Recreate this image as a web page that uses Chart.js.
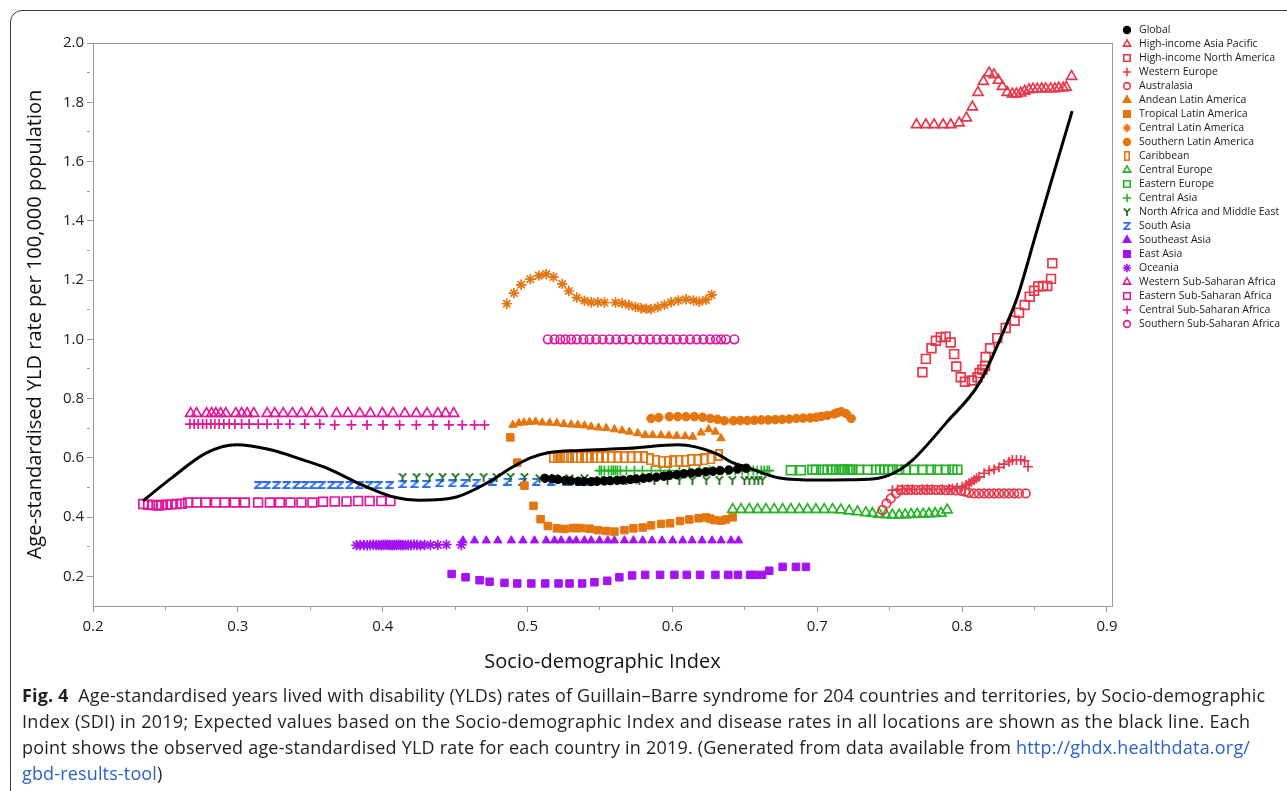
<!DOCTYPE html>
<html>
<head>
<meta charset="utf-8">
<title>Guillain–Barre syndrome YLD rates by SDI, 2019</title>
<script src="https://cdn.jsdelivr.net/npm/chart.js@4.4.1/dist/chart.umd.min.js"></script>
<style>
  html, body { margin: 0; padding: 0; background: #fff; width: 1287px; height: 791px; overflow: hidden; }
  #frame { position: absolute; left: 10px; top: 10px; width: 1700px; height: 1100px;
           border: 1.4px solid #3a3a3a; border-radius: 12px; }
  #wrap { position: absolute; left: 0; top: 0; width: 1287px; height: 690px; }
  #caption { position: absolute; left: 22px; top: 682px; font-family: "Open Sans", "Noto Sans", sans-serif;
             font-size: 18px; line-height: 26px; color: #231f20; }
  #caption .line { display: block; white-space: nowrap; }
  #caption .line span.w { display: inline-block; white-space: nowrap; }
  #caption b { font-weight: 700; }
  #caption .lnk { color: #2b62c8; }
</style>
</head>
<body>
<div id="frame"></div>
<div id="wrap"><canvas id="c" width="1287" height="690"></canvas></div>
<div id="caption">
  <span class="line"><span class="w"><b>Fig. 4</b>&nbsp; Age-standardised years lived with disability (YLDs) rates of Guillain–Barre syndrome for 204 countries and territories, by Socio-demographic</span></span>
  <span class="line"><span class="w">Index (SDI) in 2019; Expected values based on the Socio-demographic Index and disease rates in all locations are shown as the black line. Each</span></span>
  <span class="line"><span class="w">point shows the observed age-standardised YLD rate for each country in 2019. (Generated from data available from <span class="lnk">http://ghdx.healthdata.org/</span></span></span>
  <span class="line"><span class="w"><span class="lnk">gbd-results-tool</span>)</span></span>
</div>
<script>
// ---- Axis ticks ----
const xMajorTicks = [0.2, 0.3, 0.4, 0.5, 0.6, 0.7, 0.8, 0.9];
const xMajorLabels = ['0.2', '0.3', '0.4', '0.5', '0.6', '0.7', '0.8', '0.9'];
const xMinorTicks = [0.25, 0.35, 0.45, 0.55, 0.65, 0.75, 0.85];
const yMajorTicks = [0.2, 0.4, 0.6, 0.8, 1.0, 1.2, 1.4, 1.6, 1.8, 2.0];
const yMajorLabels = ['0.2', '0.4', '0.6', '0.8', '1.0', '1.2', '1.4', '1.6', '1.8', '2.0'];
const yMinorTicks = [0.3, 0.5, 0.7, 0.9, 1.1, 1.3, 1.5, 1.7, 1.9];

// ---- Expected values (black line) ----
const expectedSdi = [0.2345, 0.255, 0.278, 0.299, 0.322, 0.345, 0.363, 0.386, 0.409, 0.425, 0.451, 0.472, 0.490, 0.502, 0.515, 0.536, 0.570, 0.604, 0.630, 0.641, 0.651, 0.674, 0.701, 0.722, 0.743, 0.757, 0.766, 0.789, 0.812, 0.830, 0.838, 0.851, 0.862, 0.876];
const expectedRate = [0.455, 0.535, 0.616, 0.644, 0.628, 0.593, 0.562, 0.508, 0.466, 0.457, 0.468, 0.515, 0.570, 0.600, 0.618, 0.625, 0.632, 0.644, 0.615, 0.585, 0.569, 0.532, 0.525, 0.526, 0.532, 0.560, 0.593, 0.718, 0.853, 1.043, 1.140, 1.356, 1.540, 1.770];

// ---- Observed values, 1990–2019, per region ----
const globalSdi = [0.512, 0.517, 0.521, 0.526, 0.530, 0.535, 0.539, 0.544, 0.548, 0.553, 0.557, 0.562, 0.566, 0.571, 0.575, 0.580, 0.584, 0.589, 0.594, 0.598, 0.603, 0.608, 0.613, 0.618, 0.623, 0.628, 0.633, 0.639, 0.645, 0.651];
const globalRate = [0.531, 0.529, 0.527, 0.524, 0.522, 0.521, 0.520, 0.520, 0.521, 0.522, 0.523, 0.524, 0.525, 0.527, 0.529, 0.531, 0.533, 0.535, 0.538, 0.541, 0.543, 0.546, 0.549, 0.551, 0.553, 0.555, 0.557, 0.559, 0.562, 0.565];

const hiAsiaPacificSdi = [0.7685, 0.775, 0.7807, 0.7869, 0.7922, 0.798, 0.803, 0.8071, 0.811, 0.8147, 0.8186, 0.822, 0.825, 0.8278, 0.8312, 0.8347, 0.8375, 0.8405, 0.8432, 0.8462, 0.849, 0.8519, 0.855, 0.8577, 0.8612, 0.8641, 0.8667, 0.8698, 0.8719, 0.8756];
const hiAsiaPacificRate = [1.724, 1.724, 1.724, 1.724, 1.724, 1.730, 1.747, 1.784, 1.833, 1.870, 1.899, 1.893, 1.874, 1.853, 1.833, 1.828, 1.828, 1.831, 1.837, 1.842, 1.845, 1.845, 1.846, 1.846, 1.846, 1.846, 1.848, 1.848, 1.851, 1.887];

const hiNorthAmericaSdi = [0.7726, 0.775, 0.7789, 0.7819, 0.7853, 0.7887, 0.7922, 0.7945, 0.796, 0.7991, 0.802, 0.8067, 0.8106, 0.8122, 0.8140, 0.8159, 0.8163, 0.8193, 0.8243, 0.8301, 0.8363, 0.8393, 0.8432, 0.8467, 0.8497, 0.8526, 0.8559, 0.8588, 0.8614, 0.8623];
const hiNorthAmericaRate = [0.889, 0.934, 0.970, 0.995, 1.007, 1.009, 0.989, 0.950, 0.908, 0.872, 0.857, 0.861, 0.872, 0.886, 0.897, 0.910, 0.940, 0.970, 1.004, 1.038, 1.063, 1.090, 1.116, 1.144, 1.164, 1.178, 1.180, 1.180, 1.204, 1.257];

const westernEuropeSdi = [0.7519, 0.7555, 0.7588, 0.7624, 0.7657, 0.7726, 0.7760, 0.7795, 0.7864, 0.791, 0.7933, 0.7966, 0.8002, 0.8028, 0.8048, 0.8065, 0.8083, 0.81, 0.8117, 0.8152, 0.8186, 0.8221, 0.8255, 0.829, 0.8324, 0.8347, 0.8375, 0.8405, 0.8432, 0.8455];
const westernEuropeRate = [0.491, 0.493, 0.494, 0.494, 0.494, 0.494, 0.494, 0.494, 0.494, 0.495, 0.496, 0.498, 0.503, 0.508, 0.514, 0.519, 0.525, 0.531, 0.536, 0.548, 0.557, 0.561, 0.568, 0.579, 0.587, 0.593, 0.593, 0.593, 0.590, 0.570];

const australasiaSdi = [0.745, 0.7478, 0.7508, 0.7543, 0.7577, 0.7612, 0.7646, 0.7681, 0.7715, 0.775, 0.7784, 0.7819, 0.7853, 0.7888, 0.7922, 0.7957, 0.7991, 0.8021, 0.8048, 0.8083, 0.8117, 0.8152, 0.8186, 0.8221, 0.8255, 0.829, 0.8324, 0.8359, 0.8393, 0.8439];
const australasiaRate = [0.424, 0.446, 0.463, 0.480, 0.491, 0.492, 0.492, 0.492, 0.492, 0.492, 0.492, 0.492, 0.492, 0.491, 0.491, 0.490, 0.489, 0.486, 0.482, 0.480, 0.480, 0.480, 0.480, 0.480, 0.480, 0.480, 0.480, 0.480, 0.480, 0.480];

const andeanLaSdi = [0.4899, 0.494, 0.4975, 0.5014, 0.5055, 0.5101, 0.5152, 0.5202, 0.525, 0.5301, 0.5347, 0.5393, 0.5439, 0.549, 0.5543, 0.56, 0.5653, 0.5703, 0.5761, 0.5812, 0.5864, 0.5922, 0.5975, 0.603, 0.6088, 0.614, 0.6198, 0.625, 0.6297, 0.6336];
const andeanLaRate = [0.711, 0.717, 0.719, 0.721, 0.722, 0.719, 0.718, 0.717, 0.714, 0.712, 0.711, 0.709, 0.705, 0.702, 0.700, 0.696, 0.692, 0.688, 0.683, 0.677, 0.677, 0.676, 0.675, 0.674, 0.673, 0.671, 0.685, 0.696, 0.688, 0.666];

const tropicalLaSdi = [0.4881, 0.4929, 0.4979, 0.5041, 0.509, 0.514, 0.5202, 0.5255, 0.5312, 0.5341, 0.537, 0.5428, 0.5485, 0.5543, 0.56, 0.5669, 0.5731, 0.5795, 0.5853, 0.5922, 0.5984, 0.6053, 0.6117, 0.6181, 0.6232, 0.6262, 0.629, 0.6336, 0.637, 0.6416];
const tropicalLaRate = [0.669, 0.584, 0.506, 0.438, 0.393, 0.370, 0.362, 0.360, 0.363, 0.363, 0.363, 0.361, 0.356, 0.353, 0.351, 0.356, 0.362, 0.365, 0.372, 0.377, 0.379, 0.387, 0.392, 0.396, 0.399, 0.395, 0.390, 0.388, 0.392, 0.399];

const centralLaSdi = [0.4857, 0.4906, 0.4956, 0.5019, 0.5078, 0.5129, 0.5179, 0.5239, 0.5285, 0.534, 0.5393, 0.5439, 0.5485, 0.5531, 0.5607, 0.5653, 0.5699, 0.5745, 0.5784, 0.5819, 0.5853, 0.5899, 0.5945, 0.5991, 0.6041, 0.6094, 0.6145, 0.6186, 0.6232, 0.6271];
const centralLaRate = [1.120, 1.156, 1.184, 1.203, 1.215, 1.220, 1.210, 1.187, 1.163, 1.141, 1.130, 1.125, 1.125, 1.124, 1.124, 1.122, 1.116, 1.110, 1.105, 1.103, 1.102, 1.108, 1.116, 1.125, 1.131, 1.135, 1.131, 1.127, 1.133, 1.150];

const southernLaSdi = [0.5853, 0.5906, 0.5979, 0.6037, 0.6094, 0.6152, 0.6209, 0.6262, 0.6312, 0.6359, 0.6421, 0.6469, 0.6517, 0.6566, 0.6614, 0.6662, 0.671, 0.6759, 0.6807, 0.6855, 0.6903, 0.6952, 0.6993, 0.7028, 0.7069, 0.7117, 0.7138, 0.7166, 0.72, 0.7234];
const southernLaRate = [0.733, 0.736, 0.739, 0.739, 0.739, 0.739, 0.737, 0.733, 0.730, 0.725, 0.725, 0.726, 0.726, 0.727, 0.728, 0.728, 0.729, 0.730, 0.731, 0.733, 0.734, 0.735, 0.737, 0.740, 0.743, 0.748, 0.752, 0.756, 0.749, 0.733];

const caribbeanSdi = [0.5175, 0.5202, 0.5232, 0.526, 0.529, 0.5324, 0.5359, 0.5393, 0.5428, 0.5462, 0.5497, 0.5538, 0.5577, 0.5623, 0.5669, 0.5715, 0.5761, 0.5807, 0.5846, 0.5888, 0.5929, 0.5968, 0.6007, 0.6048, 0.609, 0.6129, 0.6175, 0.6221, 0.6267, 0.6319];
const caribbeanRate = [0.602, 0.602, 0.602, 0.602, 0.602, 0.602, 0.602, 0.602, 0.602, 0.602, 0.602, 0.602, 0.602, 0.602, 0.602, 0.602, 0.602, 0.602, 0.595, 0.590, 0.587, 0.587, 0.588, 0.590, 0.590, 0.593, 0.593, 0.595, 0.598, 0.610];

const centralEuropeSdi = [0.6416, 0.6474, 0.6531, 0.6588, 0.6646, 0.6703, 0.6761, 0.6818, 0.6876, 0.6933, 0.6991, 0.7048, 0.7106, 0.7163, 0.7221, 0.7278, 0.7336, 0.7381, 0.7428, 0.7474, 0.7519, 0.7566, 0.7607, 0.7648, 0.769, 0.7731, 0.7772, 0.7814, 0.7855, 0.7897];
const centralEuropeRate = [0.426, 0.426, 0.426, 0.426, 0.426, 0.426, 0.426, 0.426, 0.426, 0.426, 0.426, 0.426, 0.426, 0.424, 0.421, 0.418, 0.415, 0.412, 0.410, 0.408, 0.407, 0.407, 0.408, 0.409, 0.410, 0.410, 0.411, 0.412, 0.413, 0.424];

const easternEuropeSdi = [0.6818, 0.6887, 0.6966, 0.6991, 0.7037, 0.7071, 0.7106, 0.7129, 0.7152, 0.7175, 0.719, 0.7209, 0.7224, 0.7243, 0.729, 0.7347, 0.7405, 0.7434, 0.7462, 0.749, 0.7519, 0.7566, 0.7612, 0.7669, 0.7726, 0.7784, 0.783, 0.7887, 0.7933, 0.7968];
const easternEuropeRate = [0.558, 0.558, 0.560, 0.560, 0.560, 0.560, 0.560, 0.560, 0.560, 0.560, 0.560, 0.560, 0.560, 0.560, 0.560, 0.560, 0.560, 0.560, 0.560, 0.560, 0.560, 0.560, 0.560, 0.560, 0.560, 0.560, 0.560, 0.560, 0.560, 0.560];

const centralAsiaSdi = [0.5497, 0.5510, 0.5531, 0.5559, 0.5579, 0.5593, 0.5607, 0.5621, 0.5641, 0.5683, 0.5738, 0.5793, 0.5855, 0.5917, 0.5979, 0.6048, 0.6117, 0.6186, 0.6255, 0.6317, 0.6379, 0.6434, 0.6483, 0.6524, 0.6559, 0.6586, 0.6614, 0.6634, 0.6655, 0.6669];
const centralAsiaRate = [0.557, 0.557, 0.557, 0.557, 0.557, 0.557, 0.557, 0.557, 0.557, 0.557, 0.557, 0.557, 0.557, 0.557, 0.557, 0.557, 0.557, 0.557, 0.557, 0.557, 0.557, 0.557, 0.557, 0.557, 0.557, 0.557, 0.557, 0.557, 0.557, 0.557];

const naMeSdi = [0.4138, 0.4234, 0.4324, 0.4414, 0.4503, 0.46, 0.4697, 0.4786, 0.4883, 0.4979, 0.5083, 0.5186, 0.529, 0.5393, 0.5497, 0.5586, 0.5683, 0.5772, 0.5876, 0.5966, 0.6048, 0.6138, 0.6234, 0.6324, 0.6414, 0.6497, 0.6531, 0.6566, 0.6593, 0.6621];
const naMeRate = [0.535, 0.535, 0.535, 0.535, 0.535, 0.535, 0.535, 0.535, 0.535, 0.535, 0.530, 0.530, 0.530, 0.530, 0.525, 0.525, 0.525, 0.525, 0.525, 0.525, 0.525, 0.525, 0.525, 0.525, 0.525, 0.525, 0.525, 0.525, 0.525, 0.525];

const southAsiaSdi = [0.314, 0.3198, 0.3267, 0.3336, 0.3405, 0.3462, 0.3519, 0.3577, 0.3646, 0.3703, 0.3772, 0.3841, 0.3906, 0.3968, 0.4048, 0.414, 0.4221, 0.4301, 0.4393, 0.4481, 0.4566, 0.4646, 0.4761, 0.4864, 0.4968, 0.506, 0.5163, 0.5267, 0.5359, 0.5439];
const southAsiaRate = [0.508, 0.508, 0.508, 0.508, 0.508, 0.508, 0.508, 0.508, 0.508, 0.508, 0.508, 0.508, 0.508, 0.508, 0.508, 0.511, 0.511, 0.512, 0.514, 0.514, 0.515, 0.516, 0.519, 0.519, 0.519, 0.519, 0.519, 0.519, 0.519, 0.519];

const southeastAsiaSdi = [0.4554, 0.4634, 0.4715, 0.4795, 0.4888, 0.4968, 0.5048, 0.5129, 0.5186, 0.5232, 0.529, 0.5336, 0.5393, 0.5439, 0.5497, 0.5554, 0.56, 0.5669, 0.5731, 0.5795, 0.586, 0.5929, 0.6002, 0.6071, 0.6136, 0.6205, 0.6274, 0.6336, 0.6405, 0.6457];
const southeastAsiaRate = [0.321, 0.321, 0.321, 0.321, 0.321, 0.321, 0.321, 0.321, 0.321, 0.321, 0.321, 0.321, 0.321, 0.321, 0.321, 0.321, 0.321, 0.321, 0.321, 0.321, 0.321, 0.321, 0.321, 0.321, 0.321, 0.321, 0.321, 0.321, 0.321, 0.321];

const eastAsiaSdi = [0.4476, 0.4572, 0.4669, 0.4738, 0.4841, 0.4929, 0.5026, 0.5122, 0.5214, 0.529, 0.5377, 0.5462, 0.555, 0.5634, 0.5722, 0.5812, 0.5915, 0.6014, 0.6099, 0.6191, 0.6297, 0.6386, 0.6453, 0.6536, 0.6566, 0.6619, 0.6669, 0.6761, 0.6853, 0.6922];
const eastAsiaRate = [0.208, 0.197, 0.187, 0.182, 0.178, 0.176, 0.176, 0.176, 0.176, 0.176, 0.176, 0.180, 0.185, 0.197, 0.203, 0.205, 0.205, 0.205, 0.205, 0.205, 0.205, 0.205, 0.205, 0.205, 0.205, 0.205, 0.219, 0.232, 0.232, 0.232];

const oceaniaSdi = [0.3818, 0.3845, 0.3870, 0.3893, 0.3915, 0.3935, 0.3955, 0.3972, 0.3990, 0.4005, 0.4020, 0.4035, 0.4050, 0.4065, 0.4080, 0.4095, 0.4110, 0.4125, 0.4140, 0.4158, 0.4176, 0.4195, 0.4215, 0.4237, 0.4260, 0.4290, 0.4330, 0.4380, 0.4440, 0.4543];
const oceaniaRate = [0.305, 0.306, 0.306, 0.305, 0.306, 0.307, 0.306, 0.306, 0.305, 0.306, 0.307, 0.306, 0.306, 0.305, 0.306, 0.306, 0.307, 0.306, 0.305, 0.306, 0.306, 0.306, 0.307, 0.306, 0.305, 0.306, 0.306, 0.306, 0.307, 0.306];

const westernSsaSdi = [0.2674, 0.2715, 0.2784, 0.2819, 0.2848, 0.2881, 0.2917, 0.2986, 0.3026, 0.3064, 0.311, 0.3202, 0.3255, 0.3313, 0.3377, 0.3439, 0.3508, 0.3584, 0.3681, 0.3761, 0.3841, 0.3915, 0.3998, 0.4071, 0.4152, 0.4232, 0.4306, 0.4381, 0.4434, 0.449];
const westernSsaRate = [0.750, 0.750, 0.750, 0.750, 0.750, 0.750, 0.750, 0.750, 0.750, 0.750, 0.750, 0.750, 0.750, 0.750, 0.750, 0.750, 0.750, 0.750, 0.750, 0.750, 0.750, 0.750, 0.750, 0.750, 0.750, 0.750, 0.750, 0.750, 0.750, 0.750];

const easternSsaSdi = [0.2347, 0.2381, 0.2412, 0.2439, 0.2455, 0.2474, 0.2508, 0.2543, 0.2577, 0.2612, 0.2657, 0.2715, 0.2779, 0.2848, 0.291, 0.2979, 0.3048, 0.314, 0.3221, 0.329, 0.3363, 0.3439, 0.3515, 0.3588, 0.3669, 0.375, 0.383, 0.391, 0.3991, 0.4053];
const easternSsaRate = [0.444, 0.442, 0.441, 0.440, 0.440, 0.441, 0.442, 0.443, 0.444, 0.445, 0.449, 0.449, 0.449, 0.449, 0.449, 0.449, 0.449, 0.449, 0.449, 0.449, 0.449, 0.449, 0.449, 0.452, 0.453, 0.453, 0.454, 0.454, 0.454, 0.454];

const centralSsaSdi = [0.2669, 0.2699, 0.2726, 0.2757, 0.2784, 0.2814, 0.2841, 0.2871, 0.2903, 0.294, 0.2979, 0.3026, 0.3078, 0.3141, 0.3202, 0.3278, 0.3359, 0.3462, 0.3566, 0.3669, 0.3784, 0.3892, 0.4002, 0.4117, 0.4232, 0.4347, 0.4457, 0.4549, 0.4634, 0.4703];
const centralSsaRate = [0.714, 0.714, 0.714, 0.714, 0.714, 0.714, 0.714, 0.714, 0.714, 0.714, 0.714, 0.714, 0.714, 0.714, 0.714, 0.714, 0.714, 0.714, 0.714, 0.711, 0.711, 0.711, 0.711, 0.711, 0.711, 0.711, 0.711, 0.711, 0.711, 0.711];

const southernSsaSdi = [0.514, 0.5186, 0.5226, 0.5262, 0.5301, 0.534, 0.5386, 0.5428, 0.5474, 0.5519, 0.5566, 0.5612, 0.5657, 0.5703, 0.5754, 0.58, 0.5846, 0.5892, 0.5938, 0.5984, 0.603, 0.6076, 0.6122, 0.6168, 0.6214, 0.626, 0.6301, 0.6336, 0.637, 0.6428];
const southernSsaRate = [1.000, 1.000, 1.000, 1.000, 1.000, 1.000, 1.000, 1.000, 1.000, 1.000, 1.000, 1.000, 1.000, 1.000, 1.000, 1.000, 1.000, 1.000, 1.000, 1.000, 1.000, 1.000, 1.000, 1.000, 1.000, 1.000, 1.000, 1.000, 1.000, 1.000];

// ---- Palette ----
const RED = '#e6384a';
const ORANGE = '#e4750f';
const GREEN = '#27b327';
const DARK_GREEN = '#156a15';
const BLUE = '#2c6cf0';
const PURPLE = '#a413f4';
const MAGENTA = '#e0169c';
const FONT = '"Open Sans", "Noto Sans", sans-serif';

// ---- Custom glyph markers (Z, Y, tall box) ----
function glyph(w, h, paint) {
  const c = document.createElement('canvas');
  c.width = w; c.height = h;
  const g = c.getContext('2d');
  paint(g, w, h);
  return c;
}
function zGlyph(w, h, lw) {
  return glyph(w, h, (g) => {
    g.strokeStyle = BLUE; g.lineWidth = lw; g.lineJoin = 'miter'; g.lineCap = 'butt';
    g.beginPath();
    g.moveTo(0.5, lw / 2); g.lineTo(w - 1, lw / 2);
    g.lineTo(1, h - lw / 2); g.lineTo(w - 0.5, h - lw / 2);
    g.stroke();
  });
}
function yGlyph(w, h, lw) {
  return glyph(w, h, (g) => {
    g.strokeStyle = DARK_GREEN; g.lineWidth = lw; g.lineCap = 'butt';
    const cx = w / 2, cy = h * 0.48;
    g.beginPath();
    g.moveTo(0.8, 0.5); g.lineTo(cx, cy); g.lineTo(w - 0.8, 0.5);
    g.moveTo(cx, cy); g.lineTo(cx, h);
    g.stroke();
  });
}
function boxGlyph(w, h, lw) {
  return glyph(w, h, (g) => {
    g.strokeStyle = ORANGE; g.lineWidth = lw;
    g.strokeRect(lw / 2, lw / 2, w - lw, h - lw);
  });
}

// ---- Series styles (legend order) ----
const series = [
  { label: 'Global', sdi: globalSdi, rate: globalRate, style: 'circle', color: '#000', fill: true, r: 4.2 },
  { label: 'High-income Asia Pacific', sdi: hiAsiaPacificSdi, rate: hiAsiaPacificRate, style: 'triangle', color: RED, fill: false, r: 5.8 },
  { label: 'High-income North America', sdi: hiNorthAmericaSdi, rate: hiNorthAmericaRate, style: 'rect', color: RED, fill: false, r: 6.2 },
  { label: 'Western Europe', sdi: westernEuropeSdi, rate: westernEuropeRate, style: 'cross', color: RED, fill: false, r: 5 },
  { label: 'Australasia', sdi: australasiaSdi, rate: australasiaRate, style: 'circle', color: RED, fill: false, r: 4.3 },
  { label: 'Andean Latin America', sdi: andeanLaSdi, rate: andeanLaRate, style: 'triangle', color: ORANGE, fill: true, r: 4.8 },
  { label: 'Tropical Latin America', sdi: tropicalLaSdi, rate: tropicalLaRate, style: 'rect', color: ORANGE, fill: true, r: 5.3 },
  { label: 'Central Latin America', sdi: centralLaSdi, rate: centralLaRate, style: 'star', color: ORANGE, fill: false, r: 5.2 },
  { label: 'Southern Latin America', sdi: southernLaSdi, rate: southernLaRate, style: 'circle', color: ORANGE, fill: true, r: 4.3 },
  { label: 'Caribbean', sdi: caribbeanSdi, rate: caribbeanRate, style: boxGlyph(8, 12, 1.8), legendStyle: boxGlyph(6, 10, 1.6), color: ORANGE, fill: false, r: 5 },
  { label: 'Central Europe', sdi: centralEuropeSdi, rate: centralEuropeRate, style: 'triangle', color: GREEN, fill: false, r: 5.8 },
  { label: 'Eastern Europe', sdi: easternEuropeSdi, rate: easternEuropeRate, style: 'rect', color: GREEN, fill: false, r: 6.2 },
  { label: 'Central Asia', sdi: centralAsiaSdi, rate: centralAsiaRate, style: 'cross', color: GREEN, fill: false, r: 5 },
  { label: 'North Africa and Middle East', sdi: naMeSdi, rate: naMeRate, style: yGlyph(9, 9, 1.8), legendStyle: yGlyph(8, 8, 1.7), color: DARK_GREEN, fill: false, r: 5 },
  { label: 'South Asia', sdi: southAsiaSdi, rate: southAsiaRate, style: zGlyph(9, 8, 1.9), legendStyle: zGlyph(8, 8, 1.7), color: BLUE, fill: false, r: 5 },
  { label: 'Southeast Asia', sdi: southeastAsiaSdi, rate: southeastAsiaRate, style: 'triangle', color: PURPLE, fill: true, r: 4.8 },
  { label: 'East Asia', sdi: eastAsiaSdi, rate: eastAsiaRate, style: 'rect', color: PURPLE, fill: true, r: 5.3 },
  { label: 'Oceania', sdi: oceaniaSdi, rate: oceaniaRate, style: 'star', color: PURPLE, fill: false, r: 5.2 },
  { label: 'Western Sub-Saharan Africa', sdi: westernSsaSdi, rate: westernSsaRate, style: 'triangle', color: MAGENTA, fill: false, r: 5.8 },
  { label: 'Eastern Sub-Saharan Africa', sdi: easternSsaSdi, rate: easternSsaRate, style: 'rect', color: MAGENTA, fill: false, r: 6.2 },
  { label: 'Central Sub-Saharan Africa', sdi: centralSsaSdi, rate: centralSsaRate, style: 'cross', color: MAGENTA, fill: false, r: 5 },
  { label: 'Southern Sub-Saharan Africa', sdi: southernSsaSdi, rate: southernSsaRate, style: 'circle', color: MAGENTA, fill: false, r: 4.3 }
];

const toPoints = (xs, ys) => xs.map((x, i) => ({ x, y: ys[i] }));

const datasets = [
  {
    label: 'Expected',
    data: toPoints(expectedSdi, expectedRate),
    showLine: true,
    borderColor: '#000',
    borderWidth: 3,
    pointRadius: 0,
    cubicInterpolationMode: 'monotone',
    fill: false
  },
  ...series.map(s => ({
    label: s.label,
    data: toPoints(s.sdi, s.rate),
    showLine: false,
    pointStyle: s.style,
    pointRadius: s.r,
    pointHoverRadius: s.r,
    pointBorderWidth: s.fill ? 1 : 1.7,
    pointBorderColor: s.color,
    pointBackgroundColor: s.fill ? s.color : 'rgba(0,0,0,0)'
  }))
];

// Legend drawn at the right of the plot, one row per region
const sideLegend = {
  id: 'sideLegend',
  afterDraw(chart) {
    const ctx = chart.ctx;
    const x0 = 1127, tx = 1139, y0 = 30, step = 14;
    ctx.save();
    ctx.font = '10.5px ' + FONT;
    ctx.textBaseline = 'middle';
    ctx.textAlign = 'left';
    series.forEach((s, i) => {
      const y = y0 + i * step;
      ctx.fillStyle = s.fill ? s.color : 'rgba(0,0,0,0)';
      ctx.strokeStyle = s.color;
      ctx.lineWidth = 1.6;
      const style = s.legendStyle || s.style;
      Chart.helpers.drawPoint(ctx, {
        pointStyle: style,
        radius: s.style === 'rect' ? 4.6 : (s.style === 'circle' ? 3.4 : 4.2),
        borderWidth: s.fill ? 0.5 : 1.6,
        rotation: 0
      }, x0, y);
      ctx.fillStyle = '#1a1a1a';
      ctx.fillText(s.label, tx, y + 0.5);
    });
    ctx.restore();
  }
};

const tickLabel = (majors, labels) => (value) => {
  const i = majors.findIndex(m => Math.abs(m - value) < 1e-6);
  return i >= 0 ? labels[i] : '';
};
const isMinor = (minors) => (c) => (c.tick && minors.some(m => Math.abs(m - c.tick.value) < 1e-6)) ? [3, 40] : [];

new Chart(document.getElementById('c'), {
  type: 'scatter',
  data: { datasets },
  options: {
    responsive: false,
    animation: false,
    events: [],
    layout: { padding: { left: 0, top: 43, right: 175, bottom: 0 } },
    plugins: { legend: { display: false }, tooltip: { enabled: false } },
    scales: {
      x: {
        type: 'linear', position: 'bottom', min: 0.2, max: 0.9035,
        afterBuildTicks: (s) => { s.ticks = [...xMajorTicks, ...xMinorTicks].sort((a, b) => a - b).map(v => ({ value: v })); },
        afterFit: (s) => { s.height = 84; },
        ticks: { autoSkip: false, maxRotation: 0, padding: 6, color: '#1a1a1a', font: { family: FONT, size: 15 },
                 callback: tickLabel(xMajorTicks, xMajorLabels) },
        grid: { drawOnChartArea: false, drawTicks: true, tickLength: 6, tickColor: '#9a9a9a', tickWidth: 1,
                tickBorderDash: isMinor(xMinorTicks) },
        border: { display: true, color: '#9a9a9a', width: 1 },
        title: { display: true, text: 'Socio-demographic Index', color: '#111',
                 font: { family: FONT, size: 20 }, padding: { top: 0, bottom: 16 } }
      },
      y: {
        type: 'linear', position: 'left', min: 0.1, max: 2.0,
        afterBuildTicks: (s) => { s.ticks = [...yMajorTicks, ...yMinorTicks].sort((a, b) => a - b).map(v => ({ value: v })); },
        afterFit: (s) => { s.width = 93; },
        ticks: { autoSkip: false, padding: 3, color: '#1a1a1a', font: { family: FONT, size: 15 },
                 callback: tickLabel(yMajorTicks, yMajorLabels) },
        grid: { drawOnChartArea: false, drawTicks: true, tickLength: 6, tickColor: '#9a9a9a', tickWidth: 1,
                tickBorderDash: isMinor(yMinorTicks) },
        border: { display: true, color: '#9a9a9a', width: 1 },
        title: { display: true, text: 'Age-standardised YLD rate per 100,000 population', color: '#111',
                 font: { family: FONT, size: 20 }, padding: { top: 23, bottom: 0 } }
      },
      xTop: {
        type: 'linear', position: 'top', min: 0.2, max: 0.9035,
        afterFit: (s) => { s.height = 0; },
        ticks: { display: false }, grid: { drawOnChartArea: false, drawTicks: false },
        border: { display: true, color: '#9a9a9a', width: 1 }
      },
      yRight: {
        type: 'linear', position: 'right', min: 0.1, max: 2.0,
        afterFit: (s) => { s.width = 0; },
        ticks: { display: false }, grid: { drawOnChartArea: false, drawTicks: false },
        border: { display: true, color: '#9a9a9a', width: 1 }
      }
    }
  },
  plugins: [sideLegend]
});

// Caption: spread each line to its set width
(function fitCaption() {
  const widths = [1243, 1228, 1228];
  const rows = document.querySelectorAll('#caption .line .w');
  let firstSpacing = 0;
  rows.forEach((el, i) => {
    if (i < widths.length) {
      const chars = el.textContent.length;
      const w = el.getBoundingClientRect().width;
      const ls = (widths[i] - w) / Math.max(1, chars - 1);
      el.style.letterSpacing = ls.toFixed(3) + 'px';
      if (i === 0) firstSpacing = ls;
    } else {
      el.style.letterSpacing = firstSpacing.toFixed(3) + 'px';
    }
  });
})();
</script>
</body>
</html>
